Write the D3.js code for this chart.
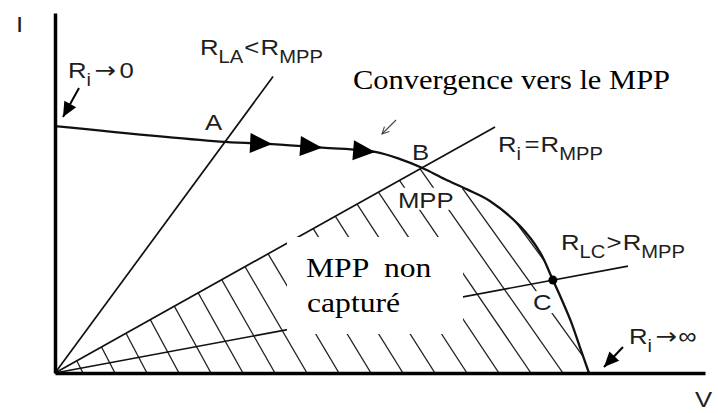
<!DOCTYPE html>
<html>
<head>
<meta charset="utf-8">
<script src="https://cdn.jsdelivr.net/npm/d3@7"></script>
<style>
  html, body { margin: 0; padding: 0; background: #fff; }
  svg { display: block; }
  .sans { font-family: "Liberation Sans", Arial, Helvetica, sans-serif; fill: #1e1e1e; }
  .arrowglyph { font-family: "DejaVu Sans", sans-serif; }
  .serif { font-family: "Liberation Serif", "Times New Roman", serif; fill: #000; white-space: pre; }
</style>
</head>
<body>
<svg id="chart" width="718" height="413"></svg>
<script>
// I–V characteristic of the PV generator (voltage V, current I)
const curveV = [0, 5.23, 6.68, 8.22, 9.85, 10.62, 11.29, 12.0, 12.68, 13.38, 14.31, 14.92, 15.32, 15.6, 15.88, 16.15, 16.43];
const curveI = [3.43, 3.21, 3.18, 3.13, 3.07, 2.97, 2.85, 2.69, 2.55, 2.39, 2.04, 1.68, 1.29, 1.01, 0.71, 0.36, 0];

// operating points where each resistive load line meets the characteristic
const pointNames = ["A", "B", "C"];
const pointV = [5.23, 11.29, 15.32];
const pointI = [3.21, 2.85, 1.29];
// voltage at which each load line stops
const loadEndV = [6.71, 13.54, 17.63];

// tips of the arrows showing the walk towards the MPP
const stepV = [6.68, 8.22, 9.85];

const svg = d3.select("#chart");
const x = d3.scaleLinear().domain([0, 20]).range([55, 705]);
const y = d3.scaleLinear().domain([0, 5]).range([373, 13]);

const pts = curveV.map((v, i) => [v, curveI[i]]);
const iAt = d3.scaleLinear().domain(curveV).range(curveI);
const rOf = i => pointV[i] / pointI[i];
const smooth = d3.curveCatmullRom.alpha(0.5);

const defs = svg.append("defs");

// area under the characteristic
defs.append("clipPath").attr("id", "underCurve")
  .append("path")
  .attr("d", d3.area().x(d => x(d[0])).y0(y(0)).y1(d => y(d[1])).curve(smooth)(pts));

// half-plane below the R_MPP load line
const rM = rOf(1);
defs.append("clipPath").attr("id", "belowMpp")
  .append("polygon")
  .attr("points", [[x(0), y(0)], [x(20), y(20 / rM)], [x(20), y(0)]].map(p => p.join(",")).join(" "));

// hatching of the region where the MPP is not reached
const hatch = svg.append("g").attr("clip-path", "url(#underCurve)")
  .append("g").attr("clip-path", "url(#belowMpp)");
const xVoc = x(curveV[curveV.length - 1]);
const slopeAt = d3.scaleLinear().domain([x(0), xVoc]).range([2.0, 1.4]);
const feet = [];
for (let f = xVoc + 38; f > x(0); f -= 32) feet.push(f);
const H = 330;
hatch.selectAll("line").data(feet).join("line")
  .attr("x1", f => f).attr("y1", y(0))
  .attr("x2", f => f - H / slopeAt(f)).attr("y2", y(0) - H)
  .attr("stroke", "#222").attr("stroke-width", 1.3);

// load lines from the origin
svg.append("g").selectAll("line").data(loadEndV).join("line")
  .attr("x1", x(0)).attr("y1", y(0))
  .attr("x2", (v) => x(v))
  .attr("y2", (v, i) => y(v / rOf(i)))
  .attr("stroke", "#111").attr("stroke-width", 1.7);

// characteristic
svg.append("path")
  .attr("d", d3.line().x(d => x(d[0])).y(d => y(d[1])).curve(smooth)(pts))
  .attr("fill", "none").attr("stroke", "#111").attr("stroke-width", 2.3);

// arrows along the characteristic
svg.append("g").selectAll("path").data(stepV).join("path")
  .attr("d", "M0,0L-22,-10L-22,10Z")
  .attr("fill", "#000")
  .attr("transform", v => {
    const a = Math.atan2(y(iAt(v)) - y(iAt(v - 0.7)), x(v) - x(v - 0.7)) * 180 / Math.PI;
    return `translate(${x(v)},${y(iAt(v))}) rotate(${a})`;
  });

// operating point C
svg.append("circle")
  .attr("cx", x(pointV[2])).attr("cy", y(pointI[2])).attr("r", 4.5).attr("fill", "#000");

// text box over the hatched area
svg.append("rect").attr("x", 287).attr("y", 237).attr("width", 176).attr("height", 97).attr("fill", "#fff");
// backgrounds of the MPP and C labels
svg.append("rect").attr("x", x(pointV[1]) - 26).attr("y", y(pointI[1]) + 20).attr("width", 66).attr("height", 22).attr("fill", "#fff");
svg.append("rect").attr("x", x(pointV[2]) - 22).attr("y", y(pointI[2]) + 11).attr("width", 24).attr("height", 22).attr("fill", "#fff");

// axes
svg.append("g").attr("transform", `translate(${x(0)},0)`)
  .call(d3.axisLeft(y).tickValues([]).tickSizeOuter(0))
  .select(".domain").attr("stroke", "#000").attr("stroke-width", 3.5);
svg.append("g").attr("transform", `translate(0,${y(0)})`)
  .call(d3.axisBottom(x).tickValues([]).tickSizeOuter(0))
  .select(".domain").attr("stroke", "#000").attr("stroke-width", 3.5);

// labels, slightly widened horizontally
const SX = 1.12;
function label(x0, y0, parts, size = 23) {
  const t = svg.append("text").attr("class", "sans")
    .attr("transform", `translate(${x0},${y0}) scale(${SX},1)`)
    .style("font-size", size + "px");
  let off = 0;
  parts.forEach(p => {
    const want = p.sub ? 8 : 0;
    const ts = t.append("tspan").text(p.t);
    if (want !== off) ts.attr("dy", want - off);
    if (p.dx) ts.attr("dx", p.dx);
    if (p.sub) ts.style("font-size", "18px");
    if (p.glyph) ts.attr("class", "arrowglyph");
    off = want;
  });
  return t;
}

label(16, 32, [{ t: "I" }]);
label(695, 407, [{ t: "V" }]);
label(68, 78, [{ t: "R" }, { t: "i", sub: 1 }, { t: "\u2192", dx: 3, glyph: 1 }, { t: "0", dx: 3 }]);
label(200, 55, [{ t: "R" }, { t: "LA", sub: 1 }, { t: "<", dx: 1 }, { t: "R", dx: 1 }, { t: "MPP", sub: 1 }]);
label(498, 152, [{ t: "R" }, { t: "i", sub: 1 }, { t: "=", dx: 3 }, { t: "R", dx: 1 }, { t: "MPP", sub: 1 }]);
label(561, 250, [{ t: "R" }, { t: "LC", sub: 1 }, { t: ">", dx: 1 }, { t: "R", dx: 1 }, { t: "MPP", sub: 1 }]);
label(629, 344, [{ t: "R" }, { t: "i", sub: 1 }, { t: "\u2192", dx: 3, glyph: 1 }, { t: "\u221E", dx: 1 }]);

const offs = [[-20, -12], [-10, -8], [-20, 30]];
pointNames.forEach((n, i) => label(x(pointV[i]) + offs[i][0], y(pointI[i]) + offs[i][1], [{ t: n }]));
label(x(pointV[1]) - 24, y(pointI[1]) + 40, [{ t: "MPP" }]);

function serif(x0, y0, txt, size) {
  svg.append("text").attr("class", "serif")
    .attr("transform", `translate(${x0},${y0}) scale(1.13,1)`)
    .style("font-size", size + "px").text(txt);
}
serif(353, 89, "Convergence vers le MPP", 27);
serif(306, 277, "MPP  non", 28);
serif(307, 312, "captur\u00e9", 28);

// pointer arrows
function pointer(x1, y1, x2, y2, head, w, color, open) {
  const a = Math.atan2(y2 - y1, x2 - x1) * 180 / Math.PI;
  svg.append("line").attr("x1", x1).attr("y1", y1).attr("x2", x2).attr("y2", y2)
    .attr("stroke", color).attr("stroke-width", w);
  const g = svg.append("path").attr("transform", `translate(${x2},${y2}) rotate(${a})`);
  if (open) g.attr("d", `M${-head},${-head * 0.5}L0,0L${-head},${head * 0.5}`).attr("fill", "none").attr("stroke", color).attr("stroke-width", w);
  else g.attr("d", `M0,0L${-head},${-head * 0.45}L${-head},${head * 0.45}Z`).attr("fill", color);
}
pointer(x(0) + 24, y(curveI[0]) - 38, x(0) + 8, y(curveI[0]) - 9, 15, 2, "#000", false);
pointer(xVoc + 34, y(0) - 26, xVoc + 15, y(0) - 6, 15, 2, "#000", false);
pointer(396, 120, 382, 134, 7, 1.1, "#444", true);
</script>
</body>
</html>
